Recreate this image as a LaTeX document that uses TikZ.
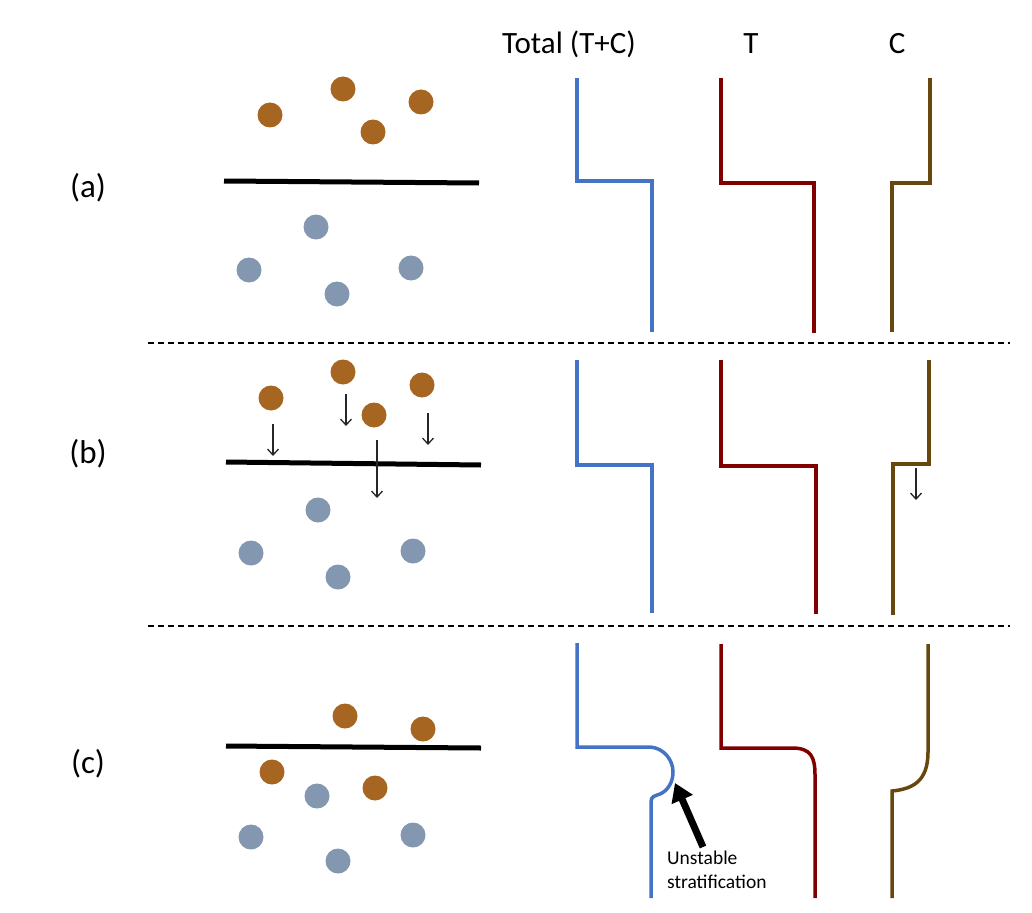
\documentclass[tikz,border=0pt]{standalone}
\usepackage{fontspec}
\setmainfont{Carlito}
\usepackage{xcolor}
\usetikzlibrary{arrows.meta,positioning}

\definecolor{totblue}{RGB}{68,114,196}
\definecolor{tempred}{RGB}{128,0,0}
\definecolor{compbrown}{RGB}{102,72,14}
\definecolor{warmfill}{RGB}{166,102,34}
\definecolor{coldfill}{RGB}{132,151,176}

\begin{document}
\begin{tikzpicture}[
    x=1pt, y=-1pt,
    warm/.style={circle, fill=warmfill, minimum size=25pt, inner sep=0pt},
    cold/.style={circle, fill=coldfill, minimum size=25pt, inner sep=0pt},
    iface/.style={line width=5pt, black},
    profile/.style={line width=3.5pt, line join=miter},
    sep/.style={line width=1.3pt, dash pattern=on 6pt off 4pt},
    fall/.style={-{Straight Barb[length=6pt,width=11pt]}, line width=1.3pt, black!85},
    heading/.style={font=\fontsize{31}{36}\selectfont},
    caselabel/.style={font=\fontsize{33}{38}\selectfont}
]
    \useasboundingbox (0,0) rectangle (1032,912);

    % headings
    \node (htot) [heading] at (569,44) {Total (T+C)};
    \node (htemp) [heading] at (751,44) {T};
    \node (hcomp) [heading] at (897,44) {C};

    \node (la) [caselabel] at (88,188) {(a)};
    \node (lb) [caselabel] at (88,454) {(b)};
    \node (lc) [caselabel] at (88,764) {(c)};

    % separators
    \draw [sep] (148,343) -- (1010,343);
    \draw [sep] (148,626) -- (1010,626);

    % (a) particles
    \draw [iface] (224,181) -- (479,183);
    \foreach \x/\y [count=\i] in {270/115, 343/89, 421/102, 373/132}
        \node (aw\i) [warm] at (\x,\y) {};
    \foreach \x/\y [count=\i] in {316/227, 249/270, 411/268, 337/294}
        \node (ac\i) [cold] at (\x,\y) {};

    % (a) profiles
    \draw [profile, totblue] (577,78) -- (577,181) -- (652,181) -- (652,332);
    \draw [profile, tempred] (721,78) -- (721,183) -- (814,183) -- (814,333);
    \draw [profile, compbrown] (930,78) -- (930,183) -- (892,183) -- (892,332);

    % (b) particles
    \draw [iface] (226,462) -- (481,465);
    \foreach \x/\y [count=\i] in {271/398, 343/372, 422/385, 374/415}
        \node (bw\i) [warm] at (\x,\y) {};
    \foreach \x/\y [count=\i] in {318/510, 251/553, 413/551, 338/577}
        \node (bc\i) [cold] at (\x,\y) {};
    \draw [fall] (273,424) -- (273,456);
    \draw [fall] (346,394) -- (346,426);
    \draw [fall] (377,440) -- (377,498);
    \draw [fall] (428,413) -- (428,445);

    % (b) profiles
    \draw [profile, totblue] (577,360) -- (577,465) -- (652,465) -- (652,613);
    \draw [profile, tempred] (721,360) -- (721,466) -- (816,466) -- (816,614);
    \draw [profile, compbrown] (929,360) -- (929,464) -- (893,464) -- (893,615);
    \draw [fall] (916,468) -- (916,500);

    % (c) particles
    \draw [iface] (226,746) -- (481,748);
    \foreach \x/\y [count=\i] in {345/716, 423/729, 272/772, 375/788}
        \node (cw\i) [warm] at (\x,\y) {};
    \foreach \x/\y [count=\i] in {317/796, 251/837, 413/835, 338/861}
        \node (cc\i) [cold] at (\x,\y) {};

    % (c) profiles
    \draw [profile, totblue] (577,643) -- (577,747) -- (650,747)
        .. controls (664,748) and (673,760) .. (673,772)
        .. controls (673,783) and (667,791) .. (660,794)
        .. controls (655,796) and (651,796) .. (651,802) -- (651,898);
    \draw [profile, tempred] (721,644) -- (721,748) -- (792,748)
        .. controls (811,748) and (815,757) .. (815,775) -- (815,898);
    \draw [profile, compbrown] (928,644) -- (928,752)
        .. controls (928,782) and (912,789) .. (892,791) -- (892,898);

    \node (unst) [anchor=north west, align=left, inner sep=0pt,
        font=\fontsize{19.5}{24}\selectfont] at (667,851) {Unstable\\stratification};
    \coordinate (tip) at (675,783);
    \draw [-{Triangle[length=18pt,width=22pt]}, line width=7pt] (703,847) -- (tip);
\end{tikzpicture}
\end{document}
